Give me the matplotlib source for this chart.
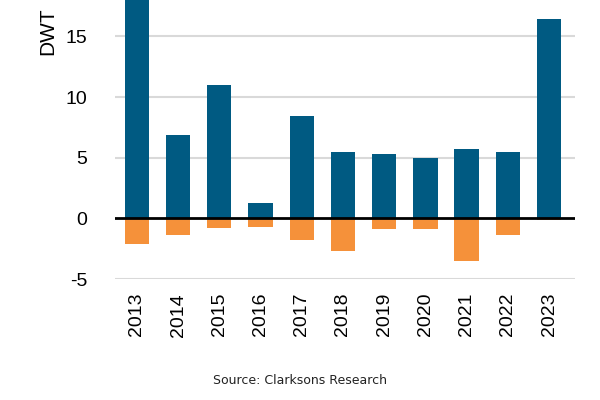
import matplotlib
matplotlib.use("Agg")
import matplotlib.pyplot as plt
import numpy as np

years = ["2013", "2014", "2015", "2016", "2017", "2018",
         "2019", "2020", "2021", "2022", "2023"]
deliveries = [20.5, 6.9, 11.0, 1.3, 8.4, 5.5, 5.3, 5.0, 5.7, 5.45, 16.4]
removals = [-2.15, -1.4, -0.8, -0.7, -1.8, -2.7, -0.9, -0.9, -3.5, -1.4, -0.1]

blue = "#005a82"
orange = "#f5913a"

plt.rcParams['font.family'] = ['Liberation Sans', 'DejaVu Sans']
plt.rcParams['axes.unicode_minus'] = False

fig = plt.figure(figsize=(6, 4), dpi=100)
ax = fig.add_axes([0.1917, 0.3025, 0.7667, 0.6975])

x = np.arange(len(years))
# grid lines behind the bars
for v in [-5, 5, 10, 15]:
    ax.axhline(v, color="#d9d9d9", lw=1.5, zorder=0)

ax.bar(x, deliveries, width=0.59, color=blue, zorder=2)
ax.bar(x, removals, width=0.59, color=orange, zorder=2)
ax.axhline(0, color="black", lw=2, zorder=3)

ax.set_ylim(-5, 18)
ax.set_xlim(-0.53, 10.63)
ax.set_yticks([-5, 0, 5, 10, 15])
ax.set_xticks(x)
ax.set_xticklabels(years, rotation=90, fontsize=14)
ax.tick_params(axis="y", labelsize=14, length=0, pad=20)
ax.tick_params(axis="x", length=0, pad=10)
for s in ax.spines.values():
    s.set_visible(False)

fig.text(48 / 600, 1 - 55 / 400, "DWT", rotation=90,
         ha="center", va="bottom", fontsize=15)
fig.text(0.5, 1 - 381 / 400, "Source: Clarksons Research",
         ha="center", va="center", fontsize=9, family="DejaVu Sans",
         color="#222222")

fig.savefig("out.png", dpi=100)
